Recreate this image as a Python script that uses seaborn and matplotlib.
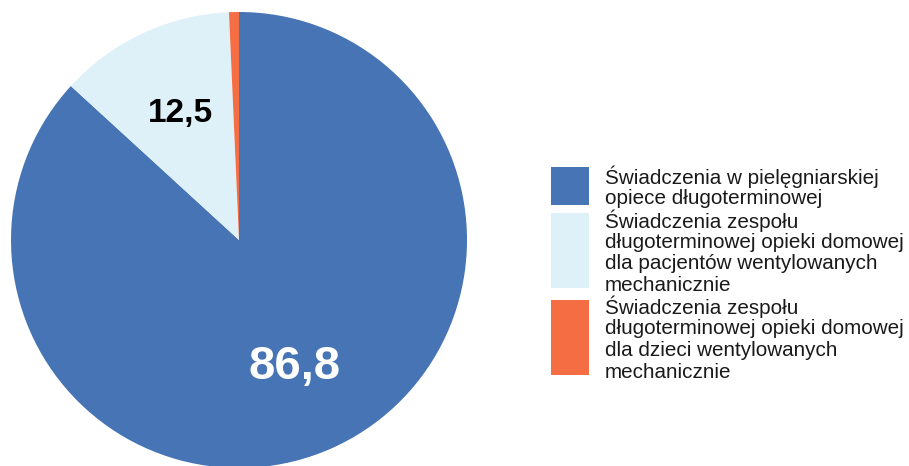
import matplotlib
matplotlib.use("Agg")
import matplotlib.pyplot as plt
import seaborn as sns
from matplotlib.patches import Rectangle

sns.set_theme(style="white")
plt.rcParams["font.family"] = ["Liberation Sans", "DejaVu Sans"]

categories = [
    "Świadczenia w pielęgniarskiej\nopiece długoterminowej",
    "Świadczenia zespołu\ndługoterminowej opieki domowej\ndla pacjentów wentylowanych\nmechanicznie",
    "Świadczenia zespołu\ndługoterminowej opieki domowej\ndla dzieci wentylowanych\nmechanicznie",
]
shares = [86.8, 12.5, 0.7]
colors = ["#4674B5", "#DFF1F8", "#F46D43"]
label_colors = ["white", "black", "black"]
label_sizes = [34, 24, 12]

W, H = 909, 466
fig = plt.figure(figsize=(W / 100, H / 100), dpi=100)

cx, cy, r = 239, 240, 228
ax = fig.add_axes([(cx - r) / W, (H - cy - r) / H, 2 * r / W, 2 * r / H])


def fmt(p):
    return "" if p < 1 else f"{p:.1f}".replace(".", ",")


wedges, texts, autotexts = ax.pie(
    shares,
    colors=colors,
    startangle=90,
    counterclock=False,
    autopct=fmt,
    pctdistance=0.61,
    radius=1,
    wedgeprops=dict(linewidth=0),
)
for t, c, s in zip(autotexts, label_colors, label_sizes):
    t.set_color(c)
    t.set_fontsize(s)
    t.set_fontweight("bold")
ax.set_xlim(-1, 1)
ax.set_ylim(-1, 1)
ax.set_aspect("equal")
ax.axis("off")

# legend: one text line per row, swatch sized to the rows of its entry
line_h = 21.7
first_line = 175
px, pw = 551, 38
tx = 605
row = 0
for name, col in zip(categories, colors):
    lines = name.split("\n")
    n = len(lines)
    center = first_line + (row + (n - 1) / 2) * line_h
    sh = 38 if n <= 2 else 75
    sy = center - sh / 2
    fig.patches.append(
        Rectangle((px / W, 1 - (sy + sh) / H), pw / W, sh / H,
                  transform=fig.transFigure, facecolor=col, edgecolor="none")
    )
    for i, ln in enumerate(lines):
        ly = first_line + (row + i) * line_h
        fig.text(tx / W, 1 - ly / H, ln, ha="left", va="center_baseline",
                 fontsize=14.9, color="#1a1a1a")
    row += n

fig.savefig("out.png", dpi=100, facecolor="white")
